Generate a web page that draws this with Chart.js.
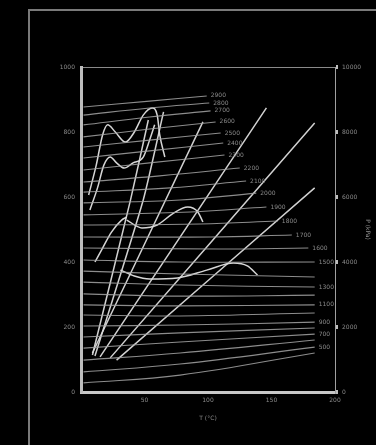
<!DOCTYPE html>
<html>
<head>
<meta charset="utf-8">
<script src="https://cdn.jsdelivr.net/npm/chart.js@4/dist/chart.umd.min.js"></script>
<style>
html, body { margin: 0; padding: 0; background: #000; overflow: hidden; }
#wrap { position: relative; width: 376px; height: 445px; }
#frame { position: absolute; left: 28px; top: 9px; width: 400px; height: 500px; border: 2px solid #7a7a7a; }
canvas { position: absolute; left: 0; top: 0; filter: blur(0.35px); }
</style>
</head>
<body>
<div id="wrap">
  <div id="frame"></div>
  <canvas id="chart1" width="376" height="445"></canvas>
</div>
<script>
// axis ranges
const xRange = [0, 200];
const leftRange = [0, 1000];
const rightRange = [0, 10000];

// near-horizontal isolines, labelled at their right end ('' = no label)
const isoLabels = ['2900', '2800', '2700', '2600', '2500', '2400', '2300', '2200', '2100', '2000', '1900', '1800', '1700',
  '1600', '1500', '', '1300', '', '1100', '', '900', '', '700', '', '500', ''];
const isoLines = [
  [[2, 877], [54, 895], [99, 911]],
  [[2, 852], [54, 874], [101, 889]],
  [[2, 822], [54, 846], [102, 865]],
  [[2, 785], [54, 809], [106, 831]],
  [[2, 754], [54, 775], [110, 797]],
  [[2, 720], [54, 742], [112, 766]],
  [[2, 683], [54, 705], [113, 729]],
  [[2, 646], [62, 665], [125, 689]],
  [[2, 615], [70, 628], [130, 649]],
  [[2, 582], [78, 591], [138, 612]],
  [[2, 545], [86, 554], [146, 569]],
  [[2, 514], [94, 517], [155, 526]],
  [[2, 477], [102, 477], [166, 483]],
  [[2, 443], [109, 440], [179, 443]],
  [[2, 406], [78, 400], [184, 400]],
  [[2, 372], [78, 363], [184, 354]],
  [[2, 338], [78, 329], [184, 323]],
  [[2, 302], [78, 295], [184, 298]],
  [[2, 268], [78, 265], [184, 268]],
  [[2, 237], [78, 234], [184, 243]],
  [[2, 203], [78, 206], [184, 215]],
  [[2, 169], [78, 182], [184, 197]],
  [[2, 135], [78, 154], [184, 178]],
  [[2, 98], [78, 120], [184, 160]],
  [[2, 62], [78, 86], [184, 138]],
  [[2, 28], [78, 52], [184, 120]]
];

// straight lines fanning out from the lower left
const fanLines = [
  [[9, 120], [96, 831]],
  [[15, 108], [146, 874]],
  [[23, 105], [184, 828]],
  [[28, 98], [184, 628]],
  [[9, 114], [39, 591], [53, 837]],
  [[11, 111], [49, 591], [65, 862]]
];

// wavy curves in the upper left
const waveLines = [
  [[6, 606], [12, 698], [17, 791], [21, 822], [27, 800], [35, 769], [42, 800], [49, 852], [56, 874], [60, 852], [62, 791], [66, 723]],
  [[7, 560], [13, 628], [18, 698], [23, 723], [28, 705], [34, 689], [41, 705], [49, 723], [54, 775], [58, 822]],
  [[11, 400], [17, 443], [24, 492], [32, 529], [36, 538]],
  [[36, 529], [48, 505], [60, 514], [72, 548], [84, 569], [92, 554], [96, 523]],
  [[31, 375], [42, 357], [54, 348], [76, 351], [99, 375], [120, 397], [131, 388], [139, 360]]
];

const toPts = arr => arr.map(p => ({ x: p[0], y: p[1] }));

const datasets = [];
isoLines.forEach((line, i) => {
  datasets.push({ data: toPts(line), tag: isoLabels[i], borderColor: 'rgba(165,165,165,0.85)', borderWidth: 1.1, tension: 0.4 });
});
fanLines.forEach(line => {
  datasets.push({ data: toPts(line), borderColor: 'rgba(220,220,220,0.95)', borderWidth: 1.5, tension: 0.2 });
});
waveLines.forEach(line => {
  datasets.push({ data: toPts(line), borderColor: 'rgba(225,225,225,0.95)', borderWidth: 1.5, cubicInterpolationMode: 'monotone' });
});

// labels at the end of each isoline
const isoTags = {
  id: 'isoTags',
  afterDatasetsDraw(chart) {
    const ctx = chart.ctx;
    const xs = chart.scales.x, ys = chart.scales.y;
    ctx.save();
    ctx.fillStyle = '#8a8a8a';
    ctx.font = '6px "DejaVu Sans"';
    ctx.textBaseline = 'middle';
    chart.data.datasets.forEach(ds => {
      if (!ds.tag) return;
      const p = ds.data[ds.data.length - 1];
      ctx.fillText(ds.tag, xs.getPixelForValue(p.x) + 4, ys.getPixelForValue(p.y));
    });
    ctx.restore();
  }
};

const tickFont = { family: 'DejaVu Sans', size: 6 };

const ctx1 = document.getElementById('chart1').getContext('2d');
const chart1 = new Chart(ctx1, {
  type: 'scatter',
  data: { datasets: datasets },
  plugins: [isoTags],
  options: {
    responsive: false,
    animation: false,
    layout: { padding: { top: 67, left: 0, right: 0, bottom: 0 } },
    elements: { point: { radius: 0 }, line: { fill: false } },
    datasets: { scatter: { showLine: true } },
    plugins: { legend: { display: false }, tooltip: { enabled: false } },
    scales: {
      x: {
        type: 'linear', min: xRange[0], max: xRange[1],
        border: { color: '#c8c8c8', width: 3 },
        grid: { display: false, drawTicks: false },
        ticks: { stepSize: 50, color: '#8a8a8a', font: tickFont, padding: 5,
          callback: v => (v === 0 ? '' : String(v)) },
        title: { display: true, text: 'T (°C)', color: '#8a8a8a', font: tickFont, padding: { top: 0, bottom: 23 } },
        afterFit: s => { s.height = 53; }
      },
      xTop: {
        type: 'linear', position: 'top', min: xRange[0], max: xRange[1],
        border: { color: '#8a8a8a', width: 1 },
        grid: { display: false, drawTicks: false },
        ticks: { display: false },
        afterFit: s => { s.height = 0; }
      },
      y: {
        type: 'linear', position: 'left', min: leftRange[0], max: leftRange[1],
        border: { color: '#bdbdbd', width: 3 },
        grid: { display: false, drawTicks: false },
        ticks: { stepSize: 200, color: '#8a8a8a', font: tickFont, padding: 6, callback: v => String(v) },
        afterFit: s => { s.width = 81; }
      },
      y2: {
        type: 'linear', position: 'right', min: rightRange[0], max: rightRange[1],
        border: { color: '#a0a0a0', width: 1 },
        grid: { drawOnChartArea: false, drawTicks: true, tickLength: 3, lineWidth: 4, color: '#bdbdbd' },
        ticks: { stepSize: 2000, color: '#8a8a8a', font: tickFont, padding: 4, callback: v => String(v) },
        title: { display: true, text: 'P (kPa)', color: '#8a8a8a', font: tickFont, padding: { top: 5, bottom: 0 } },
        afterFit: s => { s.width = 41; }
      }
    }
  }
});
</script>
</body>
</html>
